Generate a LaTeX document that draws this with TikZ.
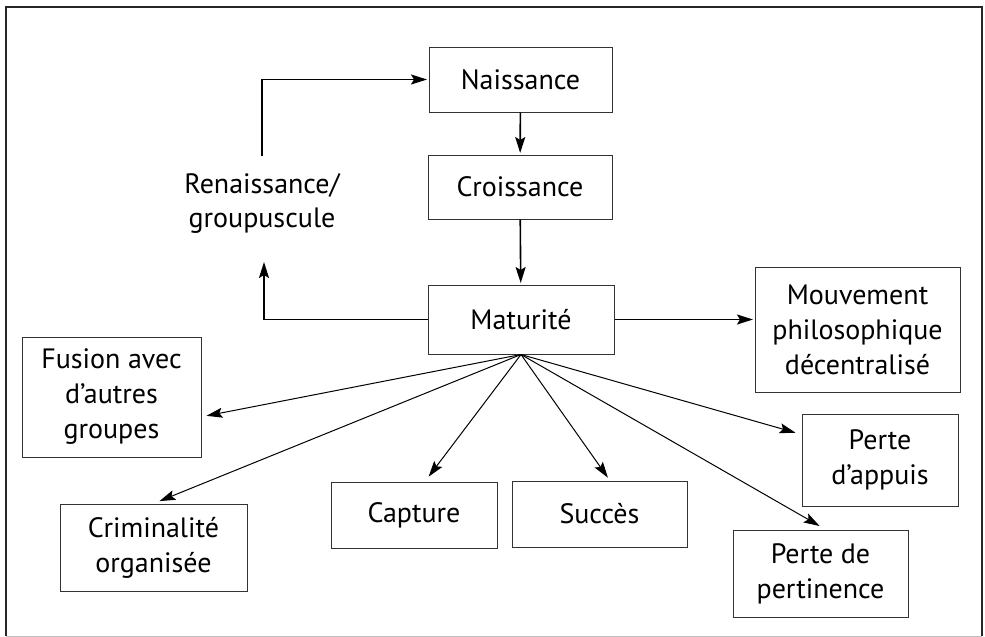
\documentclass[tikz,border=0pt]{standalone}
\usepackage{fontspec}
\setmainfont{PT Sans}
\usetikzlibrary{arrows.meta}
\begin{document}
\begin{tikzpicture}[x=1pt,y=-1pt,
  box/.style={draw=black!80,line width=1pt,inner sep=0pt,align=center,font=\fontsize{28}{35}\selectfont},
  lbl/.style={inner sep=0pt,align=center,font=\fontsize{28}{34}\selectfont},
  arr/.style={line width=1.6pt,shorten >=1.5pt,-{Stealth[length=16pt,width=10pt,inset=3pt]}},
  fan/.style={line width=1pt,shorten >=1pt,-{Stealth[length=16pt,width=10pt,inset=3pt]}}]
\useasboundingbox (0,0) rectangle (985,637);
\draw[line width=2pt,black!85] (6,636) -- (6,7) -- (982,7) -- (982,636);
\draw[line width=1pt,black!25] (6,636) -- (982,636);
\node[box,minimum width=183,minimum height=65] (nai) at (520.5,79.5) {Naissance};
\node[box,minimum width=184,minimum height=64] (cro) at (520,187) {Croissance};
\node[box,minimum width=186,minimum height=69] (mat) at (521,319.5) {Maturité};
\node[box,minimum width=205,minimum height=125] (mou) at (857.5,329.5) {Mouvement\\philosophique\\décentralisé};
\node[box,minimum width=156,minimum height=92] (app) at (880,460) {Perte\\d’appuis};
\node[box,minimum width=175,minimum height=66] (suc) at (599.5,514) {Succès};
\node[box,minimum width=175,minimum height=87] (per) at (820.5,573.5) {Perte de\\pertinence};
\node[box,minimum width=179,minimum height=120] (fus) at (111.5,397) {Fusion avec\\d’autres\\groupes};
\node[box,minimum width=187,minimum height=87] (cri) at (153.5,547.5) {Criminalité\\organisée};
\node[box,minimum width=166,minimum height=66] (cap) at (414,515) {Capture};
\node[lbl] (ren) at (262,203) {Renaissance/\\groupuscule};
\coordinate (renTop) at (262,156);
\coordinate (renBot) at (264,262);
\draw[arr] (renTop) |- (nai.west);
\draw[arr,shorten >=0pt] (mat.west) -| (renBot);
\draw[arr] (nai) -- (cro);
\draw[arr] (cro) -- (mat);
\draw[arr] (mat.east) -- (mou.west |- mat.east);
\draw[fan] (mat.south) -- ([xshift=4pt,yshift=-19pt]fus.east);
\draw[fan] (mat.south) -- ([xshift=5pt,yshift=2pt]cri.north);
\draw[fan] (mat.south) -- ([xshift=14pt,yshift=4pt]cap.north);
\draw[fan] (mat.south) -- ([xshift=9pt,yshift=2pt]suc.north);
\draw[fan] (mat.south) -- ([xshift=-5pt,yshift=27pt]app.west);
\draw[fan] (mat.south) -- ([yshift=3pt]per.north);
\end{tikzpicture}
\end{document}
